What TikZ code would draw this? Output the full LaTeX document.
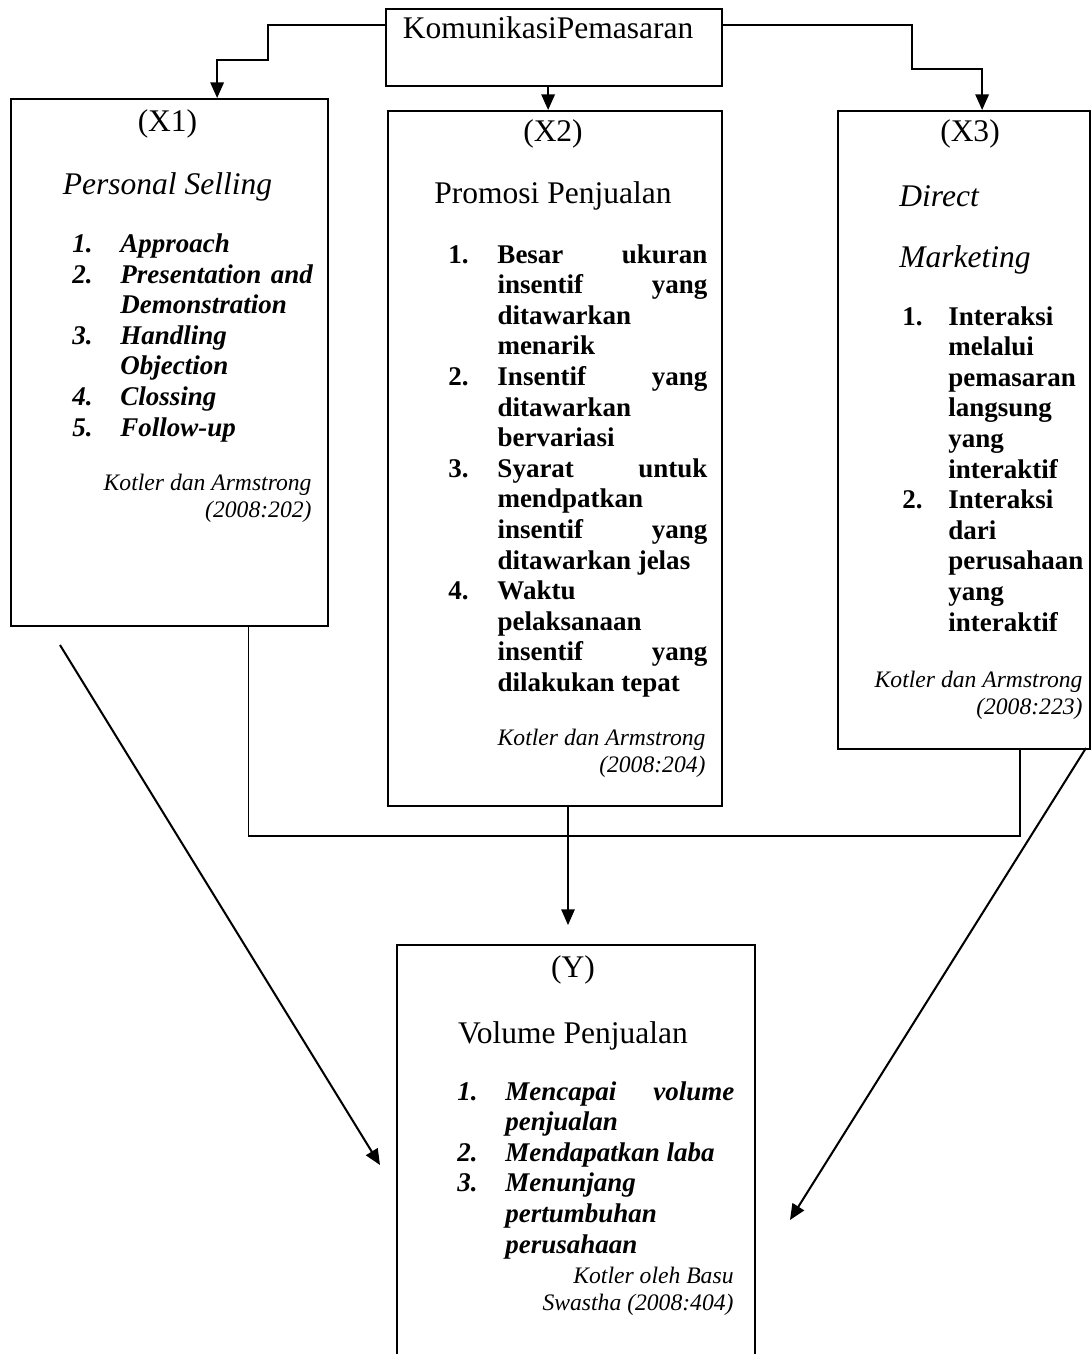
\documentclass[tikz,border=0pt]{standalone}
\usepackage{fontspec}
\setmainfont{Liberation Serif}
\usetikzlibrary{arrows.meta, calc}
\newcommand{\pxu}{0.4444pt}

\begin{document}
\begin{tikzpicture}[x=0.4444pt, y=-0.4444pt,
    box/.style={draw, line width=1pt, inner sep=0pt, anchor=north west},
    conn/.style={line width=0.9pt},
    arr/.style={conn, -{Triangle[length=7pt,width=6pt]}},
    link/.style={line width=0.5pt},
    head/.style={inner sep=0pt, anchor=base, font=\fontsize{14}{16}\selectfont},
    headi/.style={head, font=\fontsize{14}{16}\selectfont\itshape},
    lst/.style={inner sep=0pt, anchor=base west, font=\fontsize{12}{13.6}\selectfont\bfseries},
    lsti/.style={lst, font=\fontsize{12}{13.6}\selectfont\bfseries\itshape},
    src/.style={inner sep=0pt, anchor=base east, font=\fontsize{10.5}{12}\selectfont\itshape}]

    \useasboundingbox (0,0) rectangle (1091,1354);

    % Boxes
    \node[box, minimum width=336*\pxu, minimum height=77*\pxu] (K) at (385,8) {};
    \node[box, minimum width=317*\pxu, minimum height=527*\pxu] (X1) at (10,98) {};
    \node[box, minimum width=334*\pxu, minimum height=695*\pxu] (X2) at (387,110) {};
    \node[box, minimum width=252*\pxu, minimum height=638*\pxu] (X3) at (837,110) {};
    \node[box, minimum width=358*\pxu, minimum height=430*\pxu] (Y) at (396,944) {};

    % Top box
    \node[head] (tK) at (548,38) {KomunikasiPemasaran};

    % X1
    \node[head] (t1) at (167.5,131) {(X1)};
    \node[headi] (n1) at (167.5,194) {Personal Selling};
    \node[lsti] (l1) at (72,252.5) {\begin{tabular}[t]{@{}p{21.3pt}@{}p{85.5pt}@{}}
        1. & Approach\\
        2. & Presentation\hfill and\\
           & Demonstration\\
        3. & Handling\\
           & Objection\\
        4. & Clossing\\
        5. & Follow-up
    \end{tabular}};
    \node[src] (s1) at (312,490) {\begin{tabular}[t]{@{}r@{}}Kotler dan Armstrong\\(2008:202)\end{tabular}};

    % X2
    \node[head] (t2) at (553,141) {(X2)};
    \node[head] (n2) at (553,203) {Promosi Penjualan};
    \node[lst] (l2) at (448,263) {\begin{tabular}[t]{@{}p{21.8pt}@{}p{93.3pt}@{}}
        1. & Besar\hfill ukuran\\
           & insentif\hfill yang\\
           & ditawarkan\\
           & menarik\\
        2. & Insentif\hfill yang\\
           & ditawarkan\\
           & bervariasi\\
        3. & Syarat\hfill untuk\\
           & mendpatkan\\
           & insentif\hfill yang\\
           & ditawarkan jelas\\
        4. & Waktu\\
           & pelaksanaan\\
           & insentif\hfill yang\\
           & dilakukan tepat
    \end{tabular}};
    \node[src] (s2) at (706,745) {\begin{tabular}[t]{@{}r@{}}Kotler dan Armstrong\\(2008:204)\end{tabular}};

    % X3
    \node[head] (t3) at (970,141) {(X3)};
    \node[headi, anchor=base west] (n3a) at (899,206) {Direct};
    \node[headi, anchor=base west] (n3b) at (899,267) {Marketing};
    \node[lst] (l3) at (902,325) {\begin{tabular}[t]{@{}p{20.4pt}@{}p{62pt}@{}}
        1. & Interaksi\\
           & melalui\\
           & pemasaran\\
           & langsung\\
           & yang\\
           & interaktif\\
        2. & Interaksi\\
           & dari\\
           & perusahaan\\
           & yang\\
           & interaktif
    \end{tabular}};
    \node[src] (s3) at (1083,687) {\begin{tabular}[t]{@{}r@{}}Kotler dan Armstrong\\(2008:223)\end{tabular}};

    % Y
    \node[head] (tY) at (573,977) {(Y)};
    \node[head] (nY) at (573,1043) {Volume Penjualan};
    \node[lsti] (lY) at (457,1100) {\begin{tabular}[t]{@{}p{21.3pt}@{}p{101.8pt}@{}}
        1. & Mencapai\hfill volume\\
           & penjualan\\
        2. & Mendapatkan laba\\
        3. & Menunjang\\
           & pertumbuhan\\
           & perusahaan
    \end{tabular}};
    \node[src] (sY) at (734,1283) {\begin{tabular}[t]{@{}r@{}}Kotler oleh Basu\\Swastha (2008:404)\end{tabular}};

    % Free ends
    \coordinate (bj) at (1020,836);
    \coordinate (ytip) at (568,925);
    \coordinate (dl1) at (60,645);
    \coordinate (dl2) at (380,1165);
    \coordinate (dr1) at (1086,748);
    \coordinate (dr2) at (790,1220);

    % Connectors from the top box
    \draw[arr] ([yshift=-17*\pxu]K.north west) -| (268,60) -| ([xshift=47.5*\pxu]X1.north);
    \draw[arr] ([xshift=-6*\pxu]K.south) -- ([xshift=-6*\pxu]K.south |- X2.north);
    \draw[arr] ([yshift=-17*\pxu]K.north east) -| (912,69) -| ([xshift=18*\pxu]X3.north);

    % Joining line and arrow to Y
    \draw[link] ([xshift=78.5*\pxu]X1.south) |- (bj) -- (bj |- X3.south);
    \draw[arr, line width=0.7pt] (ytip |- X2.south) -- (ytip);

    % Diagonal arrows
    \draw[arr] (dl1) -- (dl2);
    \draw[arr] (dr1) -- (dr2);

\end{tikzpicture}
\end{document}
